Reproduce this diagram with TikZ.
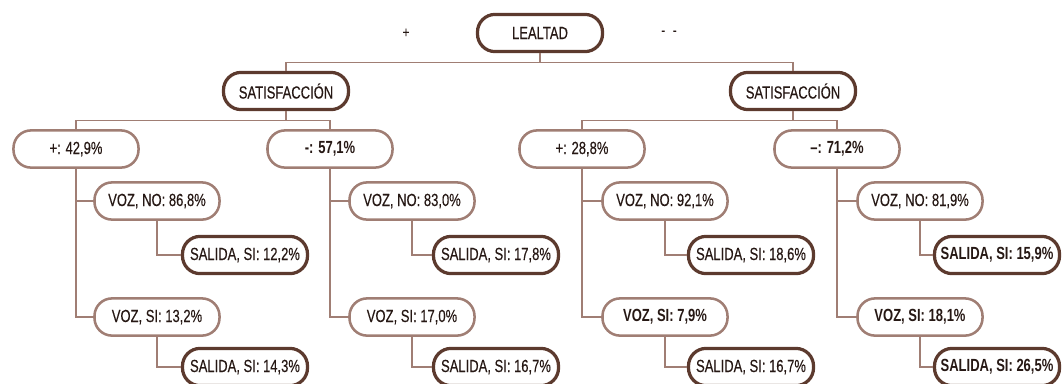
\documentclass[tikz,border=0pt]{standalone}
\usepackage{fontspec}
\setmainfont{Liberation Sans}[FakeStretch=0.74, UprightFeatures={FakeBold=0.25}]
\usepackage{tikz}
\usetikzlibrary{positioning}
\definecolor{lightbrown}{RGB}{160,126,116}
\definecolor{darkbrown}{RGB}{92,58,46}
\definecolor{textbrown}{RGB}{38,24,20}

\begin{document}
\begin{tikzpicture}[
        x=0.025cm, y=-0.025cm,
        box/.style={fill=white, rounded corners=0.44cm, minimum width=3.125cm, minimum height=0.93cm,
                    inner sep=2pt, text=textbrown, font=\fontsize{12.5}{14}\selectfont},
        lbox/.style={box, draw=lightbrown, line width=1.8pt},
        dbox/.style={box, draw=darkbrown, line width=2.3pt},
        conn/.style={draw=lightbrown, line width=1pt},
        sign/.style={text=textbrown, font=\fontsize{11}{13}\selectfont}
    ]
        \clip (0,0) rectangle (1063,383);

        % raiz
        \node[dbox] (lealtad) at (540,33) {LEALTAD};
        \node[sign] (mas) at (406,33) {+};
        \node[sign] (menos) at (669,33) {-\hspace{0.5em}-};

        % satisfaccion
        \node[dbox] (satL) at (286,91) {SATISFACCIÓN};
        \node[dbox] (satR) at (793,91) {SATISFACCIÓN};

        \node[lbox] (posL) at (76,149) {+: 42,9\%};
        \node[lbox] (negL) at (330,149) {\bfseries -: 57,1\%};
        \node[lbox] (posR) at (582,149) {+: 28,8\%};
        \node[lbox] (negR) at (837,149) {\bfseries --: 71,2\%};

        % voz
        \node[lbox] (vozNo1) at (157,201) {VOZ, NO: 86,8\%};
        \node[lbox] (vozSi1) at (157,317) {VOZ, SI: 13,2\%};
        \node[lbox] (vozNo2) at (412,201) {VOZ, NO: 83,0\%};
        \node[lbox] (vozSi2) at (412,317) {VOZ, SI: 17,0\%};
        \node[lbox] (vozNo3) at (665,201) {VOZ, NO: 92,1\%};
        \node[lbox] (vozSi3) at (665,317) {\bfseries VOZ, SI: 7,9\%};
        \node[lbox] (vozNo4) at (920,201) {VOZ, NO: 81,9\%};
        \node[lbox] (vozSi4) at (920,317) {\bfseries VOZ, SI: 18,1\%};

        % salida
        \node[dbox] (sal1) at (245,255) {SALIDA, SI: 12,2\%};
        \node[dbox] (sal2) at (245,367) {SALIDA, SI: 14,3\%};
        \node[dbox] (sal3) at (496,255) {SALIDA, SI: 17,8\%};
        \node[dbox] (sal4) at (496,367) {SALIDA, SI: 16,7\%};
        \node[dbox] (sal5) at (751,255) {SALIDA, SI: 18,6\%};
        \node[dbox] (sal6) at (751,367) {SALIDA, SI: 16,7\%};
        \node[dbox] (sal7) at (997,255) {\bfseries SALIDA, SI: 15,9\%};
        \node[dbox] (sal8) at (997,367) {\bfseries SALIDA, SI: 26,5\%};

        % lineas
        \draw[conn] (lealtad.south) -- ++(0,9) -| (satL.north);
        \draw[conn] (lealtad.south) -- ++(0,9) -| (satR.north);
        \draw[conn] (satL.south) -- ++(0,9) -| (posL.north);
        \draw[conn] (satL.south) -- ++(0,9) -| (negL.north);
        \draw[conn] (satR.south) -- ++(0,9) -| (posR.north);
        \draw[conn] (satR.south) -- ++(0,9) -| (negR.north);

        \draw[conn] (posL.south) |- (vozNo1.west);
        \draw[conn] (posL.south) |- (vozSi1.west);
        \draw[conn] (negL.south) |- (vozNo2.west);
        \draw[conn] (negL.south) |- (vozSi2.west);
        \draw[conn] (posR.south) |- (vozNo3.west);
        \draw[conn] (posR.south) |- (vozSi3.west);
        \draw[conn] (negR.south) |- (vozNo4.west);
        \draw[conn] (negR.south) |- (vozSi4.west);

        \draw[conn] (vozNo1.south) |- (sal1.west);
        \draw[conn] (vozSi1.south) |- (sal2.west);
        \draw[conn] (vozNo2.south) |- (sal3.west);
        \draw[conn] (vozSi2.south) |- (sal4.west);
        \draw[conn] (vozNo3.south) |- (sal5.west);
        \draw[conn] (vozSi3.south) |- (sal6.west);
        \draw[conn] (vozNo4.south) |- (sal7.west);
        \draw[conn] (vozSi4.south) |- (sal8.west);
    \end{tikzpicture}
\end{document}
